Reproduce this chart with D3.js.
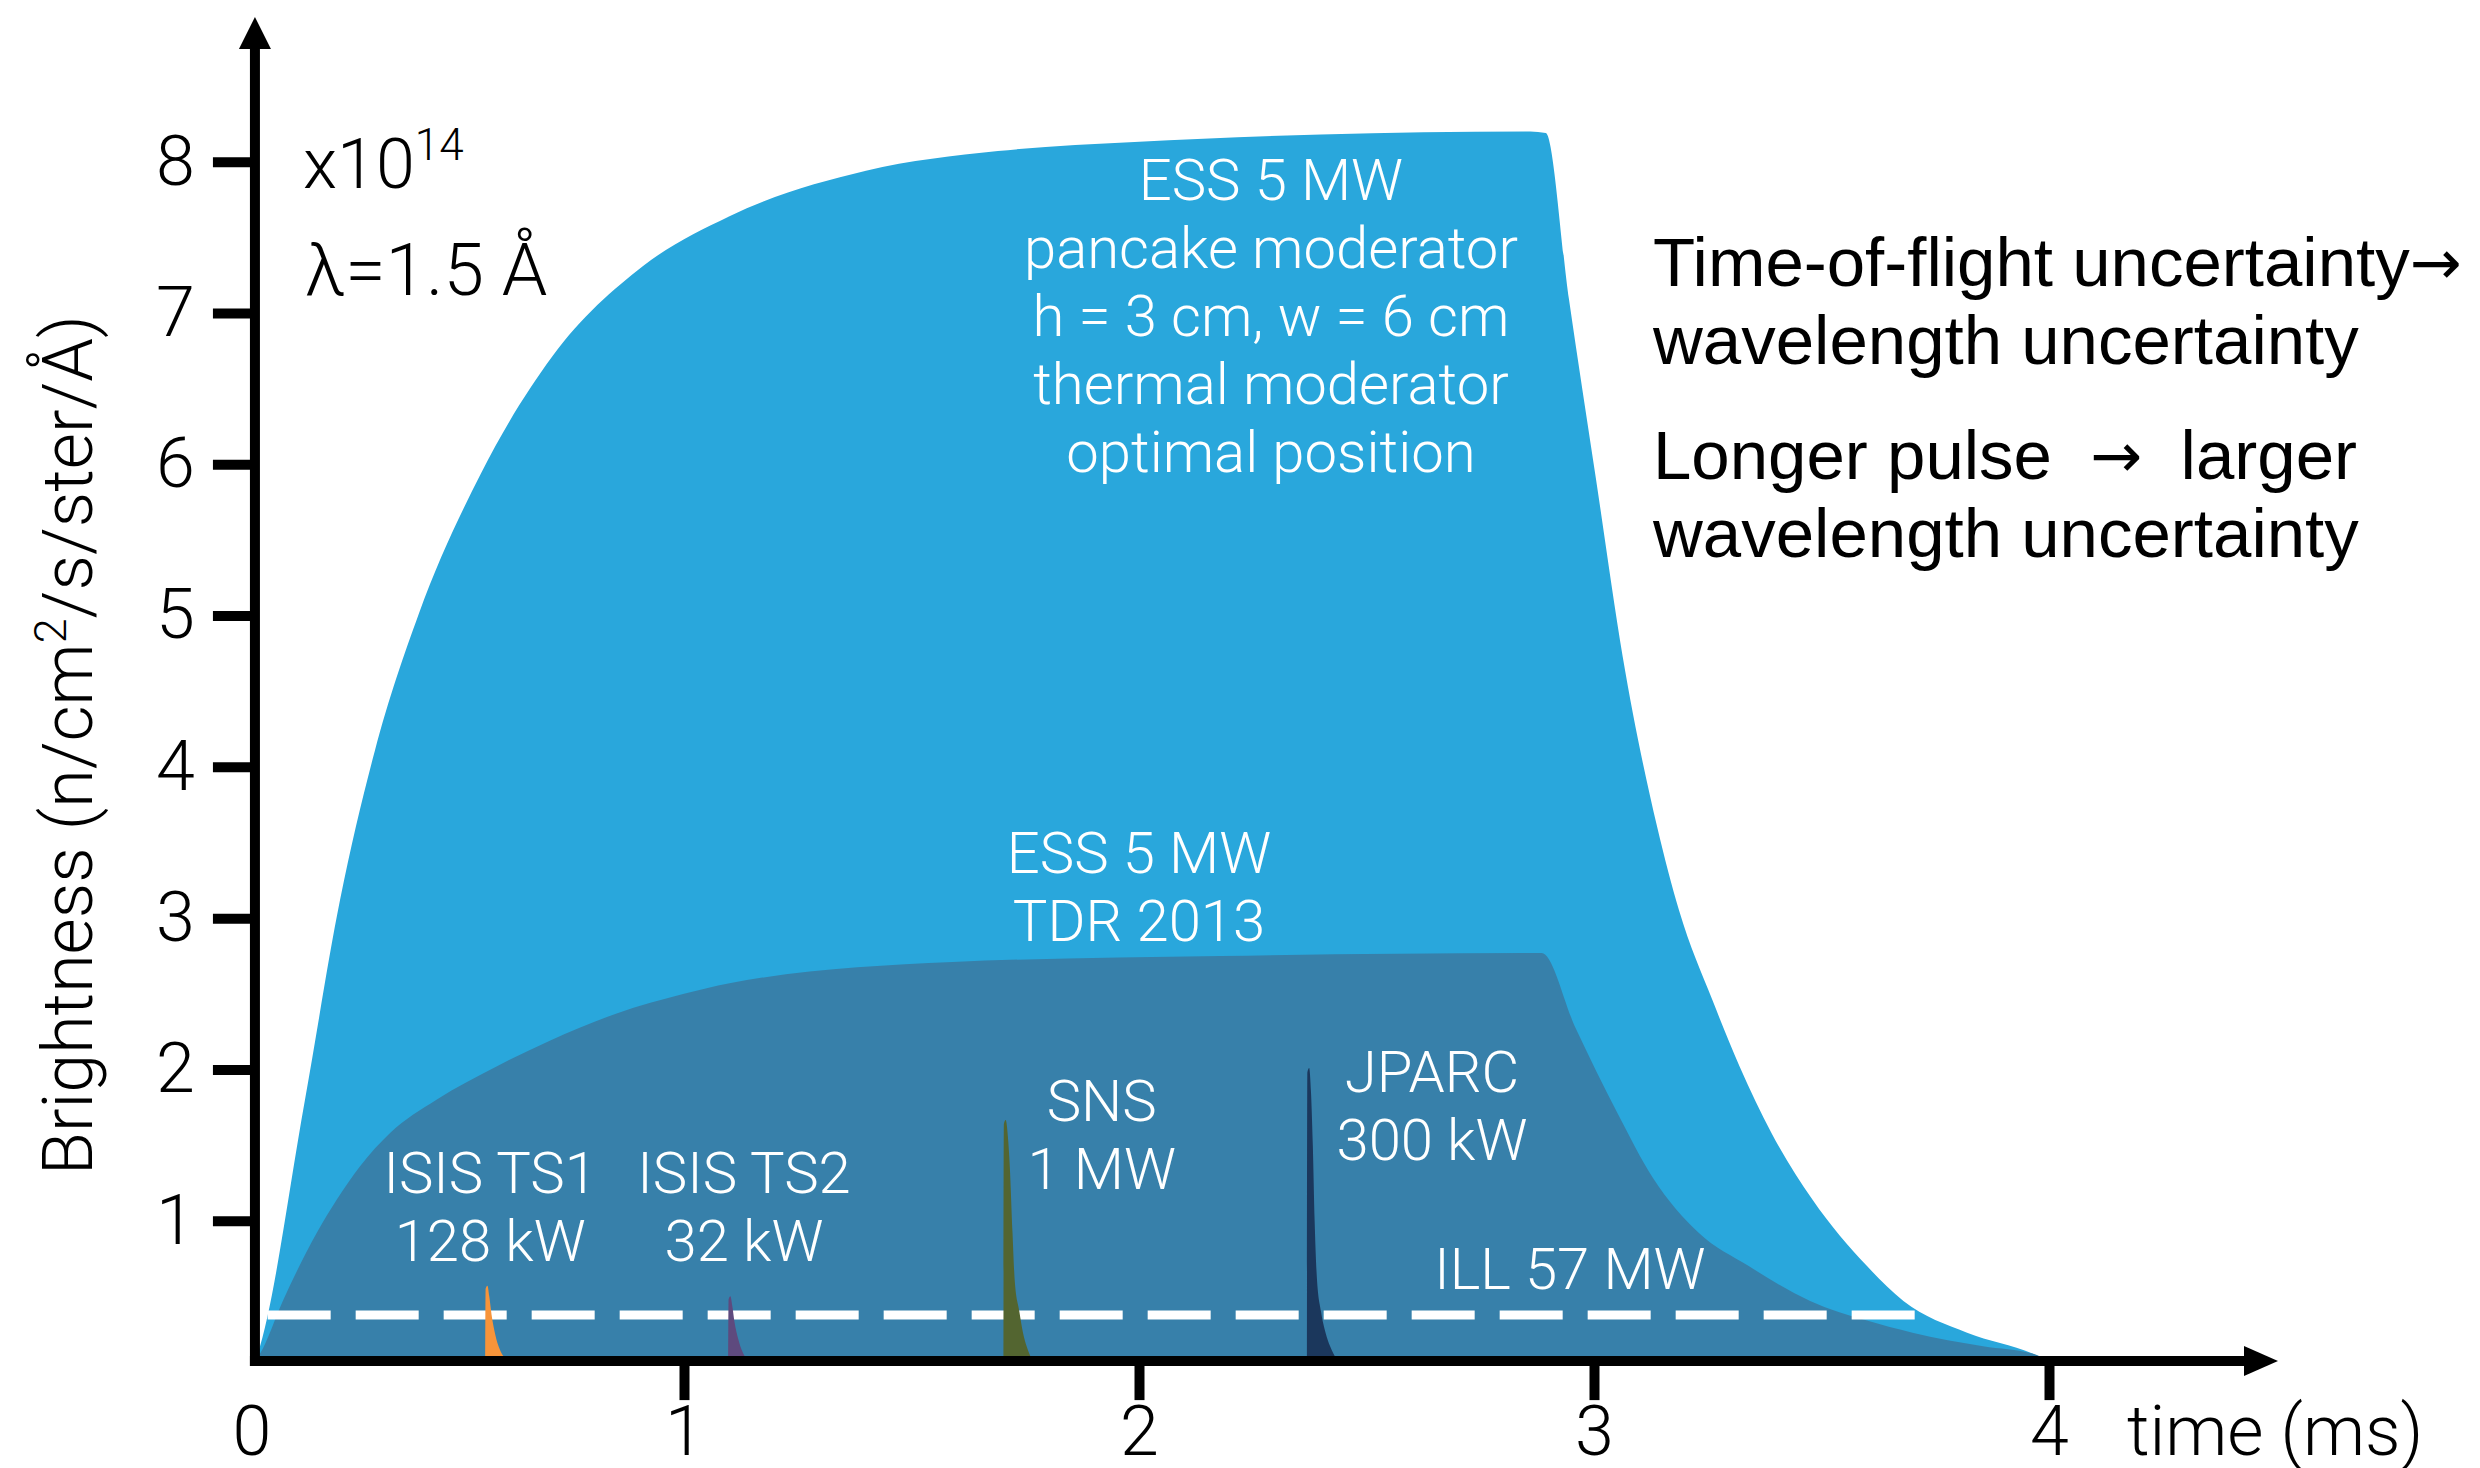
<!DOCTYPE html>
<html>
<head>
<meta charset="utf-8">
<script src="https://cdn.jsdelivr.net/npm/d3@7"></script>
<style>
  body { margin: 0; background: #fff; }
  .light { font-family: Roboto, "Helvetica Neue", "Liberation Sans", sans-serif; font-weight: 300; }
  .note { font-family: "Liberation Sans", Arial, sans-serif; }
  .arrow { font-family: "DejaVu Sans", sans-serif; }
</style>
</head>
<body>
<div id="chart"></div>
<script>

// ESS pancake moderator pulse (time in ms, brightness in 1e14 units)
var essPancakeT = [0.057, 0.063, 0.167, 0.244, 0.32, 0.417, 0.554, 0.71, 0.91, 1.10, 1.40, 1.69, 1.99, 2.40, 2.86, 2.894, 2.945, 3.004, 3.063, 3.139, 3.187, 3.26, 3.32, 3.39, 3.48, 3.60, 3.68, 3.82, 3.965, 4.0];
var essPancakeV = [0.07, 0.12, 1.80, 3.12, 4.10, 5.01, 5.94, 6.71, 7.31, 7.64, 7.94, 8.07, 8.13, 8.18, 8.20, 8.19, 7.09, 5.91, 4.73, 3.60, 3.05, 2.46, 2.02, 1.58, 1.14, 0.70, 0.47, 0.26, 0.12, 0.07];

// ESS TDR 2013 pulse
var essTdrT = [0.057, 0.068, 0.119, 0.193, 0.237, 0.288, 0.354, 0.456, 0.588, 0.705, 0.852, 1.0, 1.10, 1.59, 2.18, 2.885, 2.96, 3.05, 3.13, 3.23, 3.34, 3.475, 3.60, 3.70, 3.855, 3.965, 4.0];
var essTdrV = [0.07, 0.12, 0.475, 0.92, 1.14, 1.36, 1.58, 1.80, 2.02, 2.19, 2.37, 2.50, 2.57, 2.71, 2.75, 2.77, 2.27, 1.72, 1.28, 0.92, 0.70, 0.47, 0.34, 0.26, 0.17, 0.12, 0.07];

// short pulse sources
var isis1T = [0.563, 0.564, 0.568, 0.572, 0.577, 0.585, 0.595, 0.61, 0.63, 0.65];
var isis1V = [0, 0.55, 0.57, 0.50, 0.38, 0.25, 0.15, 0.08, 0.03, 0];
var isis2T = [1.097, 1.098, 1.102, 1.106, 1.111, 1.119, 1.129, 1.144, 1.164, 1.185];
var isis2V = [0, 0.48, 0.50, 0.44, 0.33, 0.22, 0.13, 0.07, 0.03, 0];
var snsT = [1.702, 1.703, 1.707, 1.712, 1.716, 1.722, 1.727, 1.737, 1.745, 1.753, 1.765, 1.780];
var snsV = [0, 1.64, 1.665, 1.55, 1.36, 0.92, 0.60, 0.40, 0.26, 0.17, 0.08, 0];
var jparcT = [2.369, 2.370, 2.374, 2.378, 2.382, 2.386, 2.391, 2.400, 2.410, 2.420, 2.435, 2.455];
var jparcV = [0, 1.98, 2.01, 1.85, 1.50, 1.00, 0.62, 0.40, 0.26, 0.17, 0.08, 0];

// ILL continuous source level
var illT = [0.085, 3.80];
var illV = [0.376, 0.376];

var xTicks = [1, 2, 3, 4];
var yTicks = [1, 2, 3, 4, 5, 6, 7, 8];

var peaks = [
    {name: "isis1", t: isis1T, v: isis1V, color: "#f7943a"},
    {name: "isis2", t: isis2T, v: isis2V, color: "#5e4a7e"},
    {name: "sns",   t: snsT,   v: snsV,   color: "#536530"},
    {name: "jparc", t: jparcT, v: jparcV, color: "#1b375c"}
];

var labels = [
    {lines: ["ESS 5 MW", "pancake moderator", "h = 3 cm, w = 6 cm", "thermal moderator", "optimal position"], t: 2.29, v: 7.75},
    {lines: ["ESS 5 MW", "TDR 2013"], t: 2.0, v: 3.3},
    {lines: ["ISIS TS1", "128 kW"], t: 0.574, v: 1.18},
    {lines: ["ISIS TS2", "32 kW"], t: 1.132, v: 1.18},
    {lines: ["SNS", "1 MW"], t: 1.918, v: 1.66},
    {lines: ["JPARC", "300 kW"], t: 2.644, v: 1.85},
    {lines: ["ILL 57 MW"], t: 2.947, v: 0.55}
];

var zip = function(t, v) { return t.map(function(d, i) { return {t: d, v: v[i]}; }); };

var width = 2480, height = 1468;

var svg = d3.select("#chart").append("svg")
    .attr("width", width)
    .attr("height", height);

// scales
var x = d3.scaleLinear().domain([0, 4]).range([229, 2049]);
var y = d3.scaleLinear().domain([0, 8]).range([1372, 161.7]);

// where the drawn axes cross
var originT = 0.057, originV = 0.072;
var ox = x(originT), oy = y(originV);

svg.append("clipPath")
    .attr("id", "clip")
    .append("rect")
    .attr("x", ox)
    .attr("y", 0)
    .attr("width", width - ox)
    .attr("height", oy);

var area = d3.area()
    .curve(d3.curveMonotoneX)
    .x(function(d) { return x(d.t); })
    .y0(y(0))
    .y1(function(d) { return y(d.v); });

var plot = svg.append("g").attr("clip-path", "url(#clip)");

plot.append("path")
    .datum(zip(essPancakeT, essPancakeV))
    .attr("fill", "#29a7dc")
    .attr("d", area);

plot.append("path")
    .datum(zip(essTdrT, essTdrV))
    .attr("fill", "#3780aa")
    .attr("d", area);

// ILL dashed level
plot.append("path")
    .datum(zip(illT, illV))
    .attr("fill", "none")
    .attr("stroke", "#fff")
    .attr("stroke-width", 9)
    .attr("stroke-dasharray", "63,25")
    .attr("d", d3.line().x(function(d) { return x(d.t); }).y(function(d) { return y(d.v); }));

plot.selectAll(".peak")
    .data(peaks)
    .enter()
    .append("path")
    .attr("class", "peak")
    .attr("fill", function(d) { return d.color; })
    .attr("d", function(d) { return area(zip(d.t, d.v)); });

// white annotations
labels.forEach(function(l) {
    var txt = svg.append("text")
        .attr("class", "light")
        .attr("fill", "#fff")
        .attr("font-size", 58)
        .attr("text-anchor", "middle")
        .attr("x", x(l.t))
        .attr("y", y(l.v));
    l.lines.forEach(function(s, i) {
        txt.append("tspan")
            .attr("x", x(l.t))
            .attr("dy", i === 0 ? 0 : 68)
            .text(s);
    });
});

// axes
var yAxis = svg.append("g")
    .attr("transform", "translate(" + ox + ",0)")
    .call(d3.axisLeft(y).tickValues(yTicks).tickSize(42).tickPadding(18).tickFormat(d3.format("d")));

var xAxis = svg.append("g")
    .attr("transform", "translate(0," + oy + ")")
    .call(d3.axisBottom(x).tickValues(xTicks).tickSize(39).tickPadding(5).tickFormat(d3.format("d")));

[yAxis, xAxis].forEach(function(a) {
    a.attr("font-family", null).attr("font-size", null).attr("class", "light");
    a.select(".domain").remove();
    a.selectAll(".tick line").attr("stroke", "#000").attr("stroke-width", 10);
    a.selectAll(".tick text").attr("fill", "#000").attr("font-size", 70);
});

// origin label
svg.append("text")
    .attr("class", "light")
    .attr("font-size", 70)
    .attr("text-anchor", "middle")
    .attr("x", ox - 3)
    .attr("y", 1455)
    .text("0");

// axis lines with arrow heads
svg.append("line")
    .attr("x1", ox).attr("y1", oy + 5)
    .attr("x2", ox).attr("y2", 45)
    .attr("stroke", "#000").attr("stroke-width", 10);
svg.append("path")
    .attr("d", "M" + ox + ",17L" + (ox - 16) + ",49L" + (ox + 16) + ",49Z")
    .attr("fill", "#000");

svg.append("line")
    .attr("x1", ox - 5).attr("y1", oy)
    .attr("x2", 2250).attr("y2", oy)
    .attr("stroke", "#000").attr("stroke-width", 10);
svg.append("path")
    .attr("d", "M2278," + oy + "L2244," + (oy - 15) + "L2244," + (oy + 15) + "Z")
    .attr("fill", "#000");

svg.append("text")
    .attr("class", "light")
    .attr("font-size", 70)
    .attr("x", 2127)
    .attr("y", 1455)
    .text("time (ms)");

// y axis title
var yt = svg.append("text")
    .attr("class", "light")
    .attr("font-size", 70)
    .attr("text-anchor", "middle")
    .attr("transform", "translate(92,745) rotate(-90)");
yt.append("tspan").text("Brightness (n/cm");
yt.append("tspan").attr("font-size", 45).attr("dy", -26).text("2");
yt.append("tspan").attr("dy", 26).text("/s/ster/Å)");

// scale factor and wavelength
var sc = svg.append("text")
    .attr("class", "light")
    .attr("font-size", 70)
    .attr("x", 303)
    .attr("y", 188);
sc.append("tspan").text("x10");
sc.append("tspan").attr("font-size", 44).attr("dy", -28).text("14");

svg.append("text")
    .attr("class", "light")
    .attr("font-size", 73)
    .attr("x", 305)
    .attr("y", 295)
    .text("λ=1.5 Å");

// notes on the right
var notes = [
    {a: "Time-of-flight uncertainty", arrow: "→", b: "", y: 286},
    {a: "wavelength uncertainty", arrow: "", b: "", y: 364},
    {a: "Longer pulse  ", arrow: "→", b: "  larger", y: 479},
    {a: "wavelength uncertainty", arrow: "", b: "", y: 557}
];
var nt = svg.selectAll(".notetext")
    .data(notes)
    .enter()
    .append("text")
    .attr("class", "note")
    .attr("font-size", 69)
    .attr("x", 1653)
    .attr("y", function(d) { return d.y; })
    .style("white-space", "pre");
nt.append("tspan").text(function(d) { return d.a; });
nt.append("tspan").attr("class", "arrow").attr("font-size", 62).attr("dy", -2).text(function(d) { return d.arrow; });
nt.append("tspan").attr("dy", 2).text(function(d) { return d.b; });

</script>
</body>
</html>
